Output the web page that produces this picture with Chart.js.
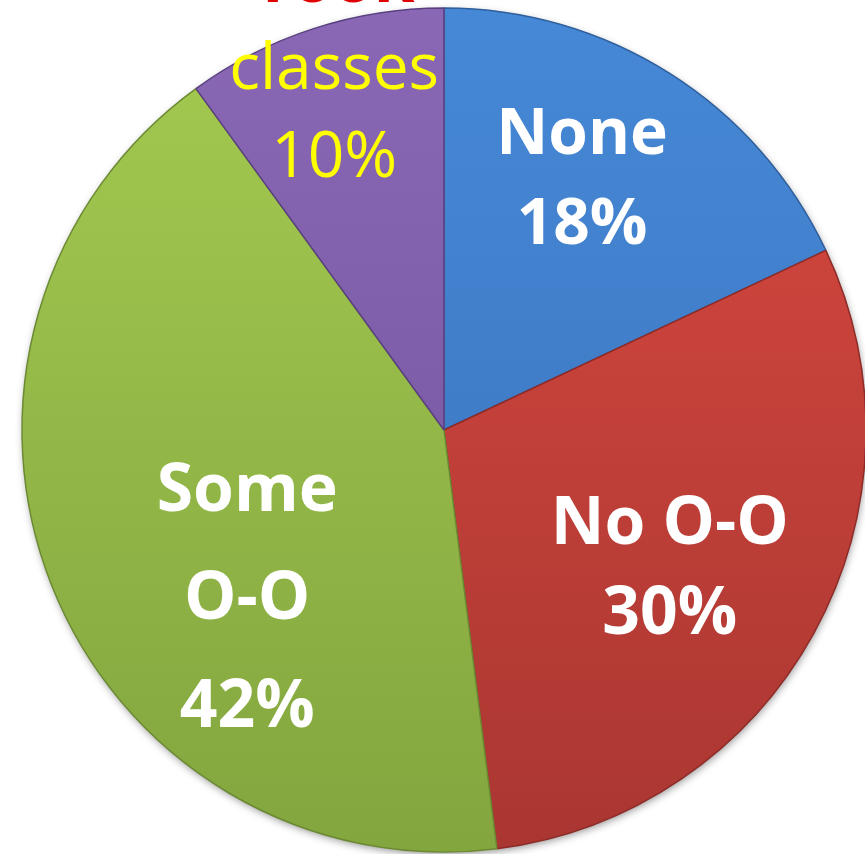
<!DOCTYPE html>
<html><head><meta charset="utf-8">
<script src="https://cdn.jsdelivr.net/npm/chart.js@4"></script>
<style>
html,body{margin:0;padding:0;background:#fff;overflow:hidden;width:865px;height:854px;}
#wrap{position:absolute;left:4px;top:-10px;width:880px;height:880px;}
</style></head><body>
<div id="wrap"><canvas id="c" width="880" height="880"></canvas></div>
<script>
// ---- data ----
const categories = ["None", "No O-O", "Some O-O", "classes"];
const values = [18, 30, 42, 10];
const labelLines = [["None", "18%"], ["No O-O", "30%"], ["Some", "O-O", "42%"], ["Took", "classes", "10%"]];

// ---- styles ----
const gradTop    = ['#4689d7', '#da4a41', '#a5cb51', '#8a68b5'];
const gradBottom = ['#3a70b9', '#a93631', '#82a53e', '#6f509b'];
const edgeColors = ['#2f5f9c', '#8e2b27', '#6c8a33', '#5a4080'];
const W64 = 'bold 64px "Open Sans"', W66 = 'bold 66px "Open Sans"';
const labelStyle = [
  {frac: 0.675, dAng: -3.4,  offs: [-45, 45],      colors: ['#fff','#fff'], fonts: [W64, W64]},
  {frac: 0.63,  dAng: 3.1,   offs: [-45, 45],      colors: ['#fff','#fff'], fonts: [W66, W66]},
  {frac: 0.616, dAng: -19.2, offs: [-108, 0, 108], colors: ['#fff','#fff','#fff'], fonts: [W66, W66, W66]},
  {frac: 0.89,  dAng: 1.0,   offs: [-88, 0, 88],   colors: ['#e00000','#ffff00','#ffff00'],
   fonts: ['bold 66px "Open Sans"', '64px "Open Sans"', '64px "Open Sans"']}
];

function gradFor(ctx, i) {
  const chart = ctx.chart, a = chart.chartArea;
  if (!a) return gradTop[i];
  const g = chart.ctx.createLinearGradient(0, a.top, 0, a.bottom);
  g.addColorStop(0, gradTop[i]);
  g.addColorStop(1, gradBottom[i]);
  return g;
}

const shadowPlugin = {
  id: 'pieShadow',
  beforeDatasetsDraw(chart) {
    const el = chart.getDatasetMeta(0).data[0];
    if (!el) return;
    const c = chart.ctx;
    c.save();
    c.shadowColor = 'rgba(0,0,0,0.45)';
    c.shadowBlur = 9;
    c.shadowOffsetX = 1;
    c.shadowOffsetY = 3;
    c.fillStyle = '#999';
    c.beginPath();
    c.arc(el.x, el.y, el.outerRadius - 1, 0, Math.PI * 2);
    c.fill();
    c.restore();
  }
};

const labelPlugin = {
  id: 'sliceLabels',
  afterDatasetsDraw(chart) {
    const c = chart.ctx;
    chart.getDatasetMeta(0).data.forEach((el, i) => {
      const st = labelStyle[i];
      const lines = labelLines[i];
      const mid = (el.startAngle + el.endAngle) / 2 + st.dAng * Math.PI / 180;
      const cx = el.x + Math.cos(mid) * el.outerRadius * st.frac;
      const cy = el.y + Math.sin(mid) * el.outerRadius * st.frac;
      c.save();
      c.textAlign = 'center';
      c.textBaseline = 'middle';
      lines.forEach((t, k) => {
        c.font = st.fonts[k];
        c.fillStyle = st.colors[k];
        c.fillText(t, cx, cy + st.offs[k]);
      });
      c.restore();
    });
  }
};

new Chart(document.getElementById('c'), {
  type: 'pie',
  data: {
    labels: categories,
    datasets: [{
      data: values,
      backgroundColor: (ctx) => gradFor(ctx, ctx.dataIndex),
      borderColor: edgeColors,
      borderWidth: 1.5
    }]
  },
  options: {
    responsive: false,
    animation: false,
    radius: 422,
    layout: {padding: 0},
    plugins: {legend: {display: false}, tooltip: {enabled: false}}
  },
  plugins: [shadowPlugin, labelPlugin]
});
</script>
</body></html>
